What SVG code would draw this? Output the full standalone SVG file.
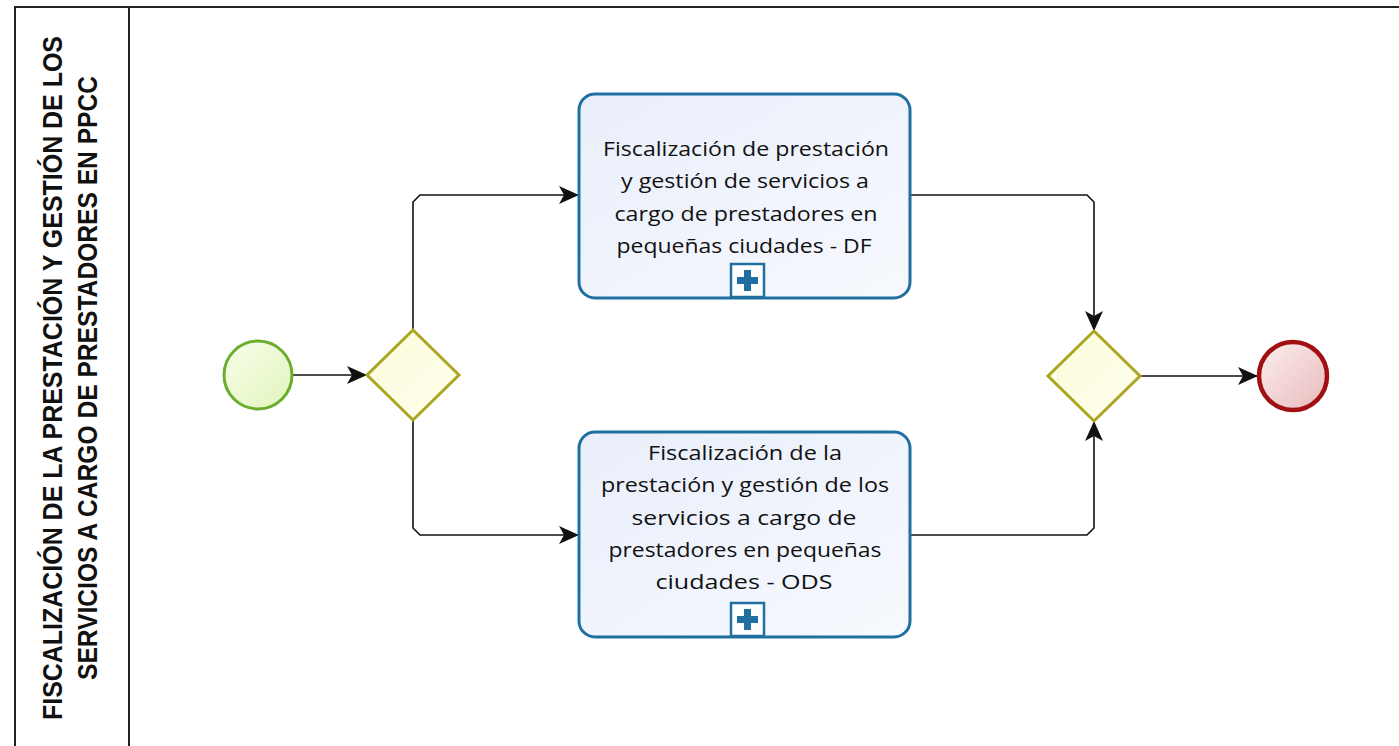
<svg xmlns="http://www.w3.org/2000/svg" width="1399" height="746" viewBox="0 0 1399 746">
<style>
.pool{fill:#fff;stroke:#222;stroke-width:2}
.title{font-family:"Liberation Sans",Arial,sans-serif;font-weight:bold;font-size:28px;fill:#111}
.task{fill:url(#gTask);stroke:#1f6fa0;stroke-width:3}
.ttext{font-family:"Open Sans","DejaVu Sans",sans-serif;font-size:20px;fill:#111;text-anchor:middle}
.gw{fill:url(#gGw);stroke:#a9a722;stroke-width:3}
.flow{fill:none;stroke:#111;stroke-width:1.6}
.plusbox{fill:#fff;stroke:#1f6fa0;stroke-width:2.5}
.plus{fill:#1f6fa0}
</style>
<defs>
<linearGradient id="gTask" x1="0" y1="0" x2="1" y2="1"><stop offset="0" stop-color="#e9eefa"/><stop offset="1" stop-color="#f7f9fe"/></linearGradient>
<linearGradient id="gGw" x1="0" y1="0" x2="1" y2="1"><stop offset="0" stop-color="#fbfbd8"/><stop offset="1" stop-color="#fffff0"/></linearGradient>
<linearGradient id="gStart" x1="0" y1="0" x2="1" y2="1"><stop offset="0" stop-color="#f7fdea"/><stop offset="1" stop-color="#e2f5bd"/></linearGradient>
<linearGradient id="gEnd" x1="0" y1="0" x2="1" y2="1"><stop offset="0" stop-color="#fcf0f0"/><stop offset="1" stop-color="#e9b9bb"/></linearGradient>
<marker id="arr" viewBox="0 0 20 20" refX="19" refY="10" markerWidth="20" markerHeight="20" markerUnits="userSpaceOnUse" orient="auto">
<path d="M0,1 L20,10 L0,19 L5,10 Z" fill="#111"/>
</marker>
</defs>

<g id="pool">
<rect class="pool" x="15" y="7" width="1400" height="760"/>
<line x1="129" y1="7" x2="129" y2="746" stroke="#222" stroke-width="2"/>
<text class="title" transform="translate(62,378) rotate(-90)" text-anchor="middle" textLength="684" lengthAdjust="spacingAndGlyphs">FISCALIZACIÓN DE LA PRESTACIÓN Y GESTIÓN DE LOS</text>
<text class="title" transform="translate(97,378) rotate(-90)" text-anchor="middle" textLength="604" lengthAdjust="spacingAndGlyphs">SERVICIOS A CARGO DE PRESTADORES EN PPCC</text>
</g>

<g id="connectors">
<path class="flow" d="M293,375 L366,375" marker-end="url(#arr)"/>
<path class="flow" d="M413,329 L413,202 L420,195 L578,195" marker-end="url(#arr)"/>
<path class="flow" d="M413,421 L413,528 L420,535 L578,535" marker-end="url(#arr)"/>
<path class="flow" d="M910,195 L1087,195 L1094,202 L1094,330" marker-end="url(#arr)"/>
<path class="flow" d="M910,535 L1087,535 L1094,528 L1094,422" marker-end="url(#arr)"/>
<path class="flow" d="M1140,376 L1257,376" marker-end="url(#arr)"/>
</g>

<g id="start">
<circle cx="258" cy="375" r="34" fill="url(#gStart)" stroke="#6aad2f" stroke-width="3"/>
</g>

<g id="gateway1">
<polygon class="gw" points="413,330 459,375 413,420 367,375"/>
</g>

<g id="task1">
<rect class="task" x="579" y="94" width="331" height="204" rx="16"/>
<text class="ttext" x="746" y="156" textLength="286" lengthAdjust="spacingAndGlyphs">Fiscalización de prestación</text>
<text class="ttext" x="745" y="188" textLength="248" lengthAdjust="spacingAndGlyphs">y gestión de servicios a</text>
<text class="ttext" x="746" y="221" textLength="263" lengthAdjust="spacingAndGlyphs">cargo de prestadores en</text>
<text class="ttext" x="744" y="253" textLength="255" lengthAdjust="spacingAndGlyphs">pequeñas ciudades - DF</text>
<rect class="plusbox" x="731" y="264" width="33" height="33"/>
<path class="plus" d="M744,270 h7 v7 h7 v7 h-7 v7 h-7 v-7 h-7 v-7 h7 z"/>
</g>

<g id="task2">
<rect class="task" x="579" y="432" width="331" height="205" rx="16"/>
<text class="ttext" x="745" y="460" textLength="194" lengthAdjust="spacingAndGlyphs">Fiscalización de la</text>
<text class="ttext" x="745" y="492" textLength="288" lengthAdjust="spacingAndGlyphs">prestación y gestión de los</text>
<text class="ttext" x="744" y="525" textLength="225" lengthAdjust="spacingAndGlyphs">servicios a cargo de</text>
<text class="ttext" x="745" y="557" textLength="273" lengthAdjust="spacingAndGlyphs">prestadores en pequeñas</text>
<text class="ttext" x="744" y="589" textLength="177" lengthAdjust="spacingAndGlyphs">ciudades - ODS</text>
<rect class="plusbox" x="731" y="603" width="33" height="33"/>
<path class="plus" d="M744,609 h7 v7 h7 v7 h-7 v7 h-7 v-7 h-7 v-7 h7 z"/>
</g>

<g id="gateway2">
<polygon class="gw" points="1094,331 1140,376 1094,421 1048,376"/>
</g>

<g id="end">
<circle cx="1293" cy="376" r="34" fill="url(#gEnd)" stroke="#a20f12" stroke-width="4.5"/>
</g>
</svg>
